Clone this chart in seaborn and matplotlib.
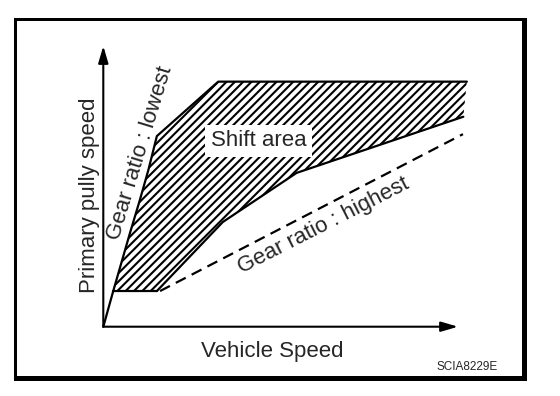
import numpy as np
import matplotlib
matplotlib.use('Agg')
import matplotlib.pyplot as plt
from matplotlib.patches import Rectangle
import seaborn as sns

sns.set_theme(style='white')
plt.rcParams['font.family'] = ['Liberation Sans', 'DejaVu Sans']
plt.rcParams['hatch.linewidth'] = 1.5
plt.rcParams['hatch.color'] = 'black'

# gear ratio : lowest (upper edge of the shift area)
lowest_x = [0, 2.8, 7.5, 10.3, 12.7, 15.1, 32.4, 102.5]
lowest_y = [0, 12.7, 33.3, 45.1, 55.8, 67.9, 87.3, 87.3]
# flat part at low vehicle speed
floor_x = [2.8, 15.1]
floor_y = [12.7, 12.7]
# lower edge of the shift area
shift_x = [15.1, 33.7, 54.5, 101.5]
shift_y = [12.7, 37.3, 54.8, 74.8]
# gear ratio : highest (dashed)
highest_x = [16.0, 101.4]
highest_y = [12.7, 68.6]

W, H = 560, 396
fig = plt.figure(figsize=(W / 100, H / 100), dpi=100)
ax = fig.add_axes([103.3 / W, (H - 326.7) / H, 354.7 / W, 280.7 / H])
ax.set_xlim(0, 100)
ax.set_ylim(0, 100)
ax.set_axis_off()

# hatched shift area
poly_x = np.concatenate([lowest_x[1:], shift_x[::-1], floor_x[:1]])
poly_y = np.concatenate([lowest_y[1:], shift_y[::-1], floor_y[:1]])
ax.fill(poly_x, poly_y, facecolor='white', edgecolor='black', linewidth=0,
        hatch='////', clip_on=False, zorder=1)

lw = 1.6
sns.lineplot(x=lowest_x, y=lowest_y, sort=False, estimator=None, ax=ax,
             color='black', lw=lw, clip_on=False, zorder=3)
sns.lineplot(x=floor_x, y=floor_y, sort=False, estimator=None, ax=ax,
             color='black', lw=lw, clip_on=False, zorder=3)
sns.lineplot(x=shift_x, y=shift_y, sort=False, estimator=None, ax=ax,
             color='black', lw=lw, clip_on=False, zorder=3)
sns.lineplot(x=highest_x, y=highest_y, sort=False, estimator=None, ax=ax,
             color='black', lw=lw, linestyle=(0, (5, 3)), clip_on=False, zorder=3)

# axes with arrows
arrow = dict(arrowstyle='-|>,head_length=0.85,head_width=0.25', color='black',
             lw=1.5, mutation_scale=12, shrinkA=0, shrinkB=0)
ax.annotate('', xy=(100, 0), xytext=(0, 0), arrowprops=arrow, annotation_clip=False)
ax.annotate('', xy=(0, 100), xytext=(0, 0), arrowprops=arrow, annotation_clip=False)

fs = 16
ax.text(43.8, 66.2, 'Shift area', fontsize=fs, ha='center', va='center', zorder=4,
        bbox=dict(boxstyle='square,pad=0.25', facecolor='white', edgecolor='none'))
ax.text(10.4, 61.7, 'Gear ratio : lowest', fontsize=fs, ha='center', va='center',
        rotation=73, rotation_mode='anchor', zorder=4)
ax.text(62.1, 35.9, 'Gear ratio : highest', fontsize=fs, ha='center', va='center',
        rotation=27, rotation_mode='anchor', zorder=4)

fig.text(272.4 / W, (H - 356.7) / H, 'Vehicle Speed', fontsize=fs, ha='center', va='baseline')
fig.text(89 / W, (H - 195.5) / H, 'Primary pully speed', fontsize=fs, ha='center',
         va='center', rotation=90)
fig.text(467.5 / W, (H - 370) / H, 'SCIA8229E', fontsize=8.5, ha='center', va='baseline')

# frame: thin left/top, thick right/bottom
def bar(x0, y0, x1, y1):
    fig.patches.append(Rectangle((x0 / W, (H - y1) / H), (x1 - x0) / W, (y1 - y0) / H,
                                 transform=fig.transFigure, facecolor='black',
                                 edgecolor='none'))

bar(14, 18, 17, 381)
bar(14, 18, 527, 21)
bar(522, 18, 527, 381)
bar(14, 376, 527, 381)

fig.savefig('out.png', dpi=100)
